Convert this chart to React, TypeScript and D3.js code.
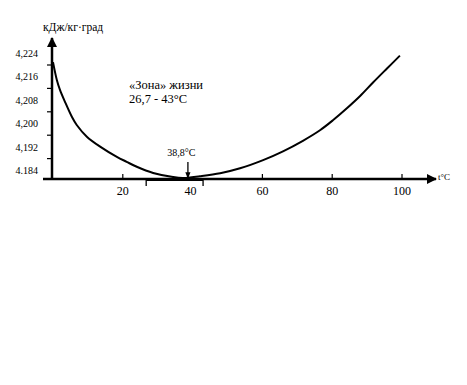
import * as d3 from 'd3';
import { useRef, useEffect } from 'react';

// temperature, °C
const temps: number[] = [0, 1.1, 2, 3.4, 5.4, 6.8, 9.7, 13.5, 18.3, 21.1, 24, 28.7, 34.4, 37.2, 42.1, 47.9, 53.6, 60.2, 65.9, 71.6, 76.5, 80.2, 84.2, 88, 91.7, 95.7, 99.4];
// specific heat, kJ/kg·deg
const heat: number[] = [4.2250, 4.2189, 4.2155, 4.2115, 4.2063, 4.2035, 4.1995, 4.1961, 4.1926, 4.1909, 4.1892, 4.1871, 4.1857, 4.1854, 4.1860, 4.1870, 4.1887, 4.1915, 4.1945, 4.1981, 4.2017, 4.2051, 4.2092, 4.2134, 4.2180, 4.2228, 4.2272];

const xTicks: number[] = [20, 40, 60, 80, 100];
const yTicks: number[] = [4.224, 4.216, 4.208, 4.200, 4.192, 4.184];
const yTickLabels: string[] = ['4,224', '4,216', '4,208', '4,200', '4,192', '4.184'];
const zone: [number, number] = [26.7, 43];
const tMin = 38.8;

const App = () => {
    const ref: any = useRef();
    const width = 467;
    const height = 385;
    const font = "'Liberation Serif', 'Times New Roman', Times, serif";

    useEffect(() => {
        const svg = d3.select(ref.current)
            .attr("width", width)
            .attr("height", height)
            .style("font-family", font);
        svg.selectAll("*").remove();

        const x = d3.scaleLinear().domain([0, 100]).range([53, 402]);
        const y = d3.scaleLinear().domain([4.184, 4.224]).range([182, 65]);
        const axisY = 179;
        const axisX = 52;

        svg.append("rect").attr("width", width).attr("height", height).attr("fill", "#fff");

        const defs = svg.append("defs");
        defs.append("marker")
            .attr("id", "arr")
            .attr("viewBox", "0 0 10 10")
            .attr("refX", 9).attr("refY", 5)
            .attr("markerWidth", 4).attr("markerHeight", 4)
            .attr("markerUnits", "strokeWidth")
            .attr("orient", "auto")
            .append("path").attr("d", "M0,0 L10,5 L0,10 z").attr("fill", "#000");
        defs.append("marker")
            .attr("id", "arr2")
            .attr("viewBox", "0 0 10 10")
            .attr("refX", 9).attr("refY", 5)
            .attr("markerWidth", 5).attr("markerHeight", 5)
            .attr("markerUnits", "strokeWidth")
            .attr("orient", "auto")
            .append("path").attr("d", "M0,1 L10,5 L0,9 z").attr("fill", "#000");

        // axes
        svg.append("line")
            .attr("x1", 43).attr("y1", axisY).attr("x2", 436).attr("y2", axisY)
            .attr("stroke", "#000").attr("stroke-width", 2.5)
            .attr("marker-end", "url(#arr)");
        svg.append("line")
            .attr("x1", axisX).attr("y1", axisY + 1).attr("x2", axisX).attr("y2", 38)
            .attr("stroke", "#000").attr("stroke-width", 2.5)
            .attr("marker-end", "url(#arr)");

        // zone of life on the axis
        svg.append("line")
            .attr("x1", x(zone[0])).attr("x2", x(zone[1]))
            .attr("y1", axisY + 1).attr("y2", axisY + 1)
            .attr("stroke", "#000").attr("stroke-width", 2);
        zone.forEach(z => {
            svg.append("line")
                .attr("x1", x(z)).attr("x2", x(z))
                .attr("y1", axisY).attr("y2", axisY + 7)
                .attr("stroke", "#000").attr("stroke-width", 1.3);
        });

        // x ticks
        xTicks.filter(t => t !== 40).forEach(t => {
            svg.append("line")
                .attr("x1", x(t)).attr("x2", x(t))
                .attr("y1", axisY - 5).attr("y2", axisY)
                .attr("stroke", "#000").attr("stroke-width", 1.2);
        });
        svg.selectAll("text.xt")
            .data(xTicks)
            .enter().append("text")
            .attr("class", "xt")
            .attr("x", d => x(d) - (d === 40 ? 2 : 0))
            .attr("y", 195)
            .attr("text-anchor", "middle")
            .style("font-size", "12px")
            .text(d => d);

        // y ticks
        yTicks.filter(v => y(v) < axisY).forEach(v => {
            svg.append("line")
                .attr("x1", axisX - 5).attr("x2", axisX)
                .attr("y1", y(v)).attr("y2", y(v))
                .attr("stroke", "#000").attr("stroke-width", 1.2);
        });
        svg.selectAll("text.yt")
            .data(yTicks)
            .enter().append("text")
            .attr("class", "yt")
            .attr("x", 38)
            .attr("y", d => y(d) - 8)
            .attr("text-anchor", "end")
            .style("font-size", "10px")
            .text((d, i) => yTickLabels[i]);

        // curve
        const line = d3.line<number>()
            .x((d, i) => x(temps[i]))
            .y(d => y(d))
            .curve(d3.curveCatmullRom);
        svg.append("path")
            .datum(heat)
            .attr("d", line)
            .attr("fill", "none")
            .attr("stroke", "#000")
            .attr("stroke-width", 2);

        // minimum arrow
        svg.append("line")
            .attr("x1", x(tMin) - 0.5).attr("x2", x(tMin) - 0.5)
            .attr("y1", 162).attr("y2", axisY - 1)
            .attr("stroke", "#000").attr("stroke-width", 1.3)
            .attr("marker-end", "url(#arr2)");
        svg.append("text")
            .attr("x", x(tMin) - 7).attr("y", 156)
            .attr("text-anchor", "middle")
            .style("font-size", "10px")
            .text("38,8°C");

        // labels
        svg.append("text")
            .attr("x", 43).attr("y", 31)
            .style("font-size", "11.5px")
            .text("кДж/кг·град");
        svg.append("text")
            .attr("x", 438).attr("y", 180)
            .style("font-size", "9px")
            .text("t°C");
        svg.append("text")
            .attr("x", 129).attr("y", 89)
            .style("font-size", "12.5px")
            .text("«Зона» жизни");
        svg.append("text")
            .attr("x", 129).attr("y", 103)
            .style("font-size", "12.5px")
            .text("26,7 - 43°С");
    }, []);

    return (
        <svg ref={ref} style={{ position: 'absolute', left: 0, top: 0 }}>
        </svg>
    );
};

export default App;
